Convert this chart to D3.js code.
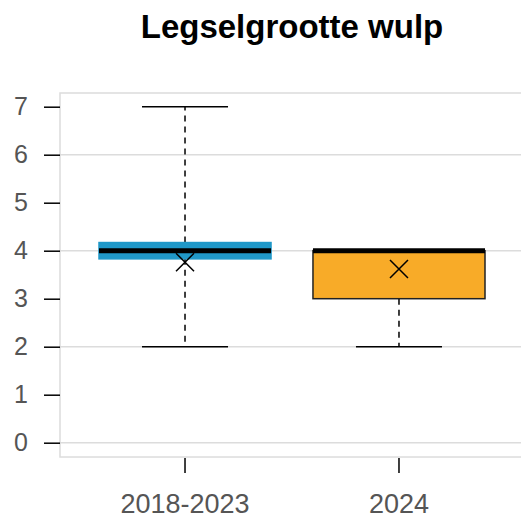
<!DOCTYPE html>
<html>
<head>
<meta charset="utf-8">
<script src="https://cdn.jsdelivr.net/npm/d3@7"></script>
<style>
  body { margin: 0; background: #fff; }
  svg { font-family: "Liberation Sans", Arial, sans-serif; }
</style>
</head>
<body>
<div id="chart"></div>
<script>
'use strict'

var groups = ["2018-2023", "2024"];
var lowWhisker = [2, 2];
var q1 = [3.83, 3];
var medians = [4, 4];
var q3 = [4.17, 4];
var highWhisker = [7, 4];
var means = [3.76, 3.62];
var colors = ["#2098c8", "#f8ab28"];
var yTicks = [0, 1, 2, 3, 4, 5, 6, 7];
var gridValues = [0, 2, 4, 6];

var width = 521, height = 520;
var plot = { left: 60, right: 524, top: 93, bottom: 457 };

var svg = d3.select("#chart").append("svg")
    .attr("width", width).attr("height", height);

var y = d3.scaleLinear().domain([0, 7]).range([442.7, 106.7]);
var x = d3.scaleBand().domain(groups)
    .range([99, 485]).paddingInner(0.196).paddingOuter(0);

// title
svg.append("text")
    .attr("x", 292).attr("y", 38)
    .attr("text-anchor", "middle")
    .attr("font-size", 33).attr("font-weight", "bold")
    .attr("fill", "#000")
    .text("Legselgrootte wulp");

// frame and grid
svg.append("rect")
    .attr("x", plot.left).attr("y", plot.top)
    .attr("width", plot.right - plot.left).attr("height", plot.bottom - plot.top)
    .attr("fill", "none").attr("stroke", "#dcdcdc").attr("stroke-width", 1.5);

svg.selectAll(".grid").data(gridValues).enter().append("line")
    .attr("x1", plot.left).attr("x2", plot.right)
    .attr("y1", function(d) { return y(d); }).attr("y2", function(d) { return y(d); })
    .attr("stroke", "#dcdcdc").attr("stroke-width", 1.5);

// y axis
var yAxis = svg.append("g").attr("transform", "translate(" + plot.left + ",0)")
    .call(d3.axisLeft(y).tickValues(yTicks).tickSize(16).tickPadding(16).tickFormat(d3.format("d")));
yAxis.select(".domain").remove();
yAxis.selectAll(".tick line").attr("stroke", "#000").attr("stroke-width", 1.5);
yAxis.selectAll(".tick text").attr("font-size", 25).attr("fill", "#555")
    .attr("font-family", "Liberation Sans, Arial, sans-serif");

// x axis
var xAxis = svg.append("g").attr("transform", "translate(0," + (plot.bottom + 1) + ")")
    .call(d3.axisBottom(x).tickSize(15).tickPadding(21));
xAxis.select(".domain").remove();
xAxis.selectAll(".tick line").attr("stroke", "#000").attr("stroke-width", 1.5);
xAxis.selectAll(".tick text").attr("font-size", 27).attr("fill", "#555")
    .attr("font-family", "Liberation Sans, Arial, sans-serif");

// boxes
var boxes = svg.selectAll(".box").data(groups).enter().append("g");
var cx = function(d) { return x(d) + x.bandwidth() / 2; };
var capHalf = x.bandwidth() / 4;

boxes.append("line")
    .attr("x1", cx).attr("x2", cx)
    .attr("y1", function(d, i) { return y(q1[i]); })
    .attr("y2", function(d, i) { return y(lowWhisker[i]); })
    .attr("stroke", "#000").attr("stroke-width", 1.5).attr("stroke-dasharray", "6,5");
boxes.append("line")
    .attr("x1", cx).attr("x2", cx)
    .attr("y1", function(d, i) { return y(q3[i]); })
    .attr("y2", function(d, i) { return y(highWhisker[i]); })
    .attr("stroke", "#000").attr("stroke-width", 1.5).attr("stroke-dasharray", "6,5");

boxes.append("line")
    .attr("x1", function(d) { return cx(d) - capHalf; })
    .attr("x2", function(d) { return cx(d) + capHalf; })
    .attr("y1", function(d, i) { return y(lowWhisker[i]); })
    .attr("y2", function(d, i) { return y(lowWhisker[i]); })
    .attr("stroke", "#000").attr("stroke-width", 1.5);
boxes.filter(function(d, i) { return highWhisker[i] > q3[i]; }).append("line")
    .attr("x1", function(d) { return cx(d) - capHalf; })
    .attr("x2", function(d) { return cx(d) + capHalf; })
    .attr("y1", function(d) { var i = groups.indexOf(d); return y(highWhisker[i]); })
    .attr("y2", function(d) { var i = groups.indexOf(d); return y(highWhisker[i]); })
    .attr("stroke", "#000").attr("stroke-width", 1.5);

boxes.append("rect")
    .attr("x", function(d) { return x(d); })
    .attr("width", x.bandwidth())
    .attr("y", function(d, i) { return y(q3[i]); })
    .attr("height", function(d, i) { return y(q1[i]) - y(q3[i]); })
    .attr("fill", function(d, i) { return colors[i]; })
    .attr("stroke", function(d, i) { return i === 0 ? colors[i] : "#222"; })
    .attr("stroke-width", 1.5);

boxes.append("line")
    .attr("x1", function(d) { return x(d); })
    .attr("x2", function(d) { return x(d) + x.bandwidth(); })
    .attr("y1", function(d, i) { return y(medians[i]); })
    .attr("y2", function(d, i) { return y(medians[i]); })
    .attr("stroke", "#000").attr("stroke-width", 5);

// mean markers
var m = 9;
boxes.append("path")
    .attr("d", function(d, i) {
        var px = cx(d), py = y(means[i]);
        return "M" + (px - m) + "," + (py - m) + "L" + (px + m) + "," + (py + m) +
               "M" + (px - m) + "," + (py + m) + "L" + (px + m) + "," + (py - m);
    })
    .attr("stroke", "#000").attr("stroke-width", 1.5).attr("fill", "none");
</script>
</body>
</html>
